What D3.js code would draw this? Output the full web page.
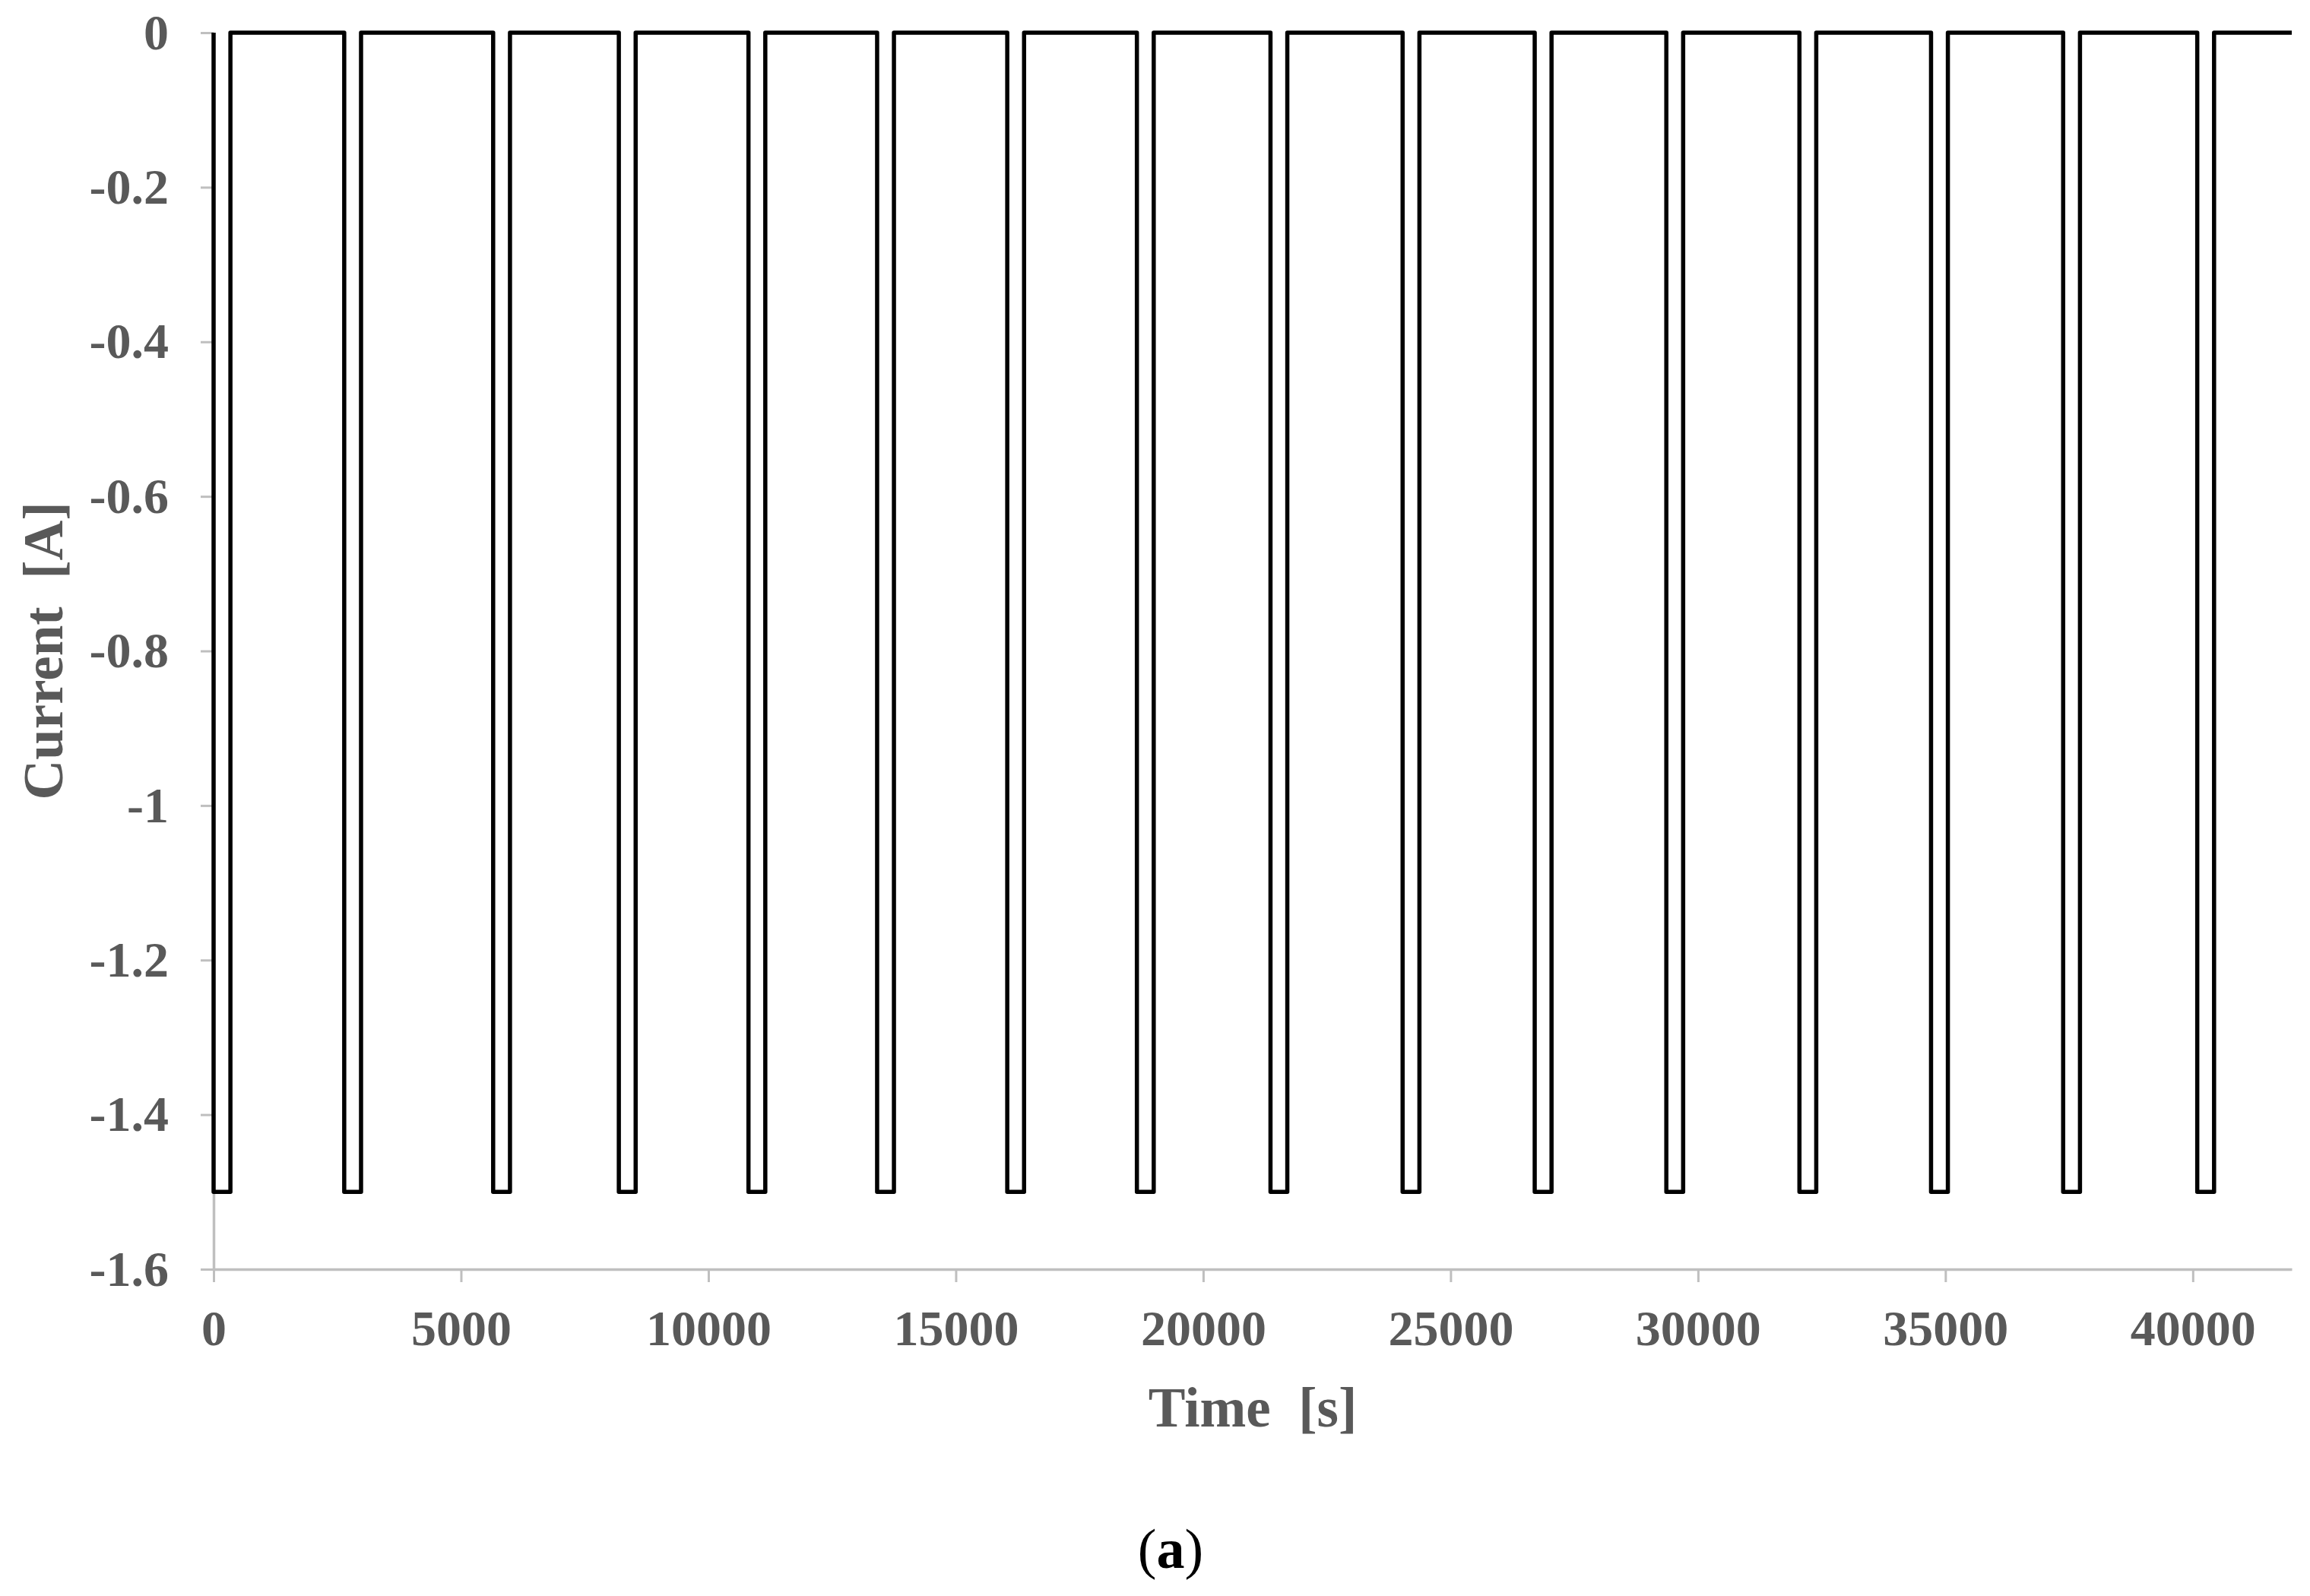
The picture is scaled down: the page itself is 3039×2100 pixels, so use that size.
<!DOCTYPE html>
<html>
<head>
<meta charset="utf-8">
<script src="https://cdn.jsdelivr.net/npm/d3@7"></script>
<style>
  body { margin: 0; background: #fff; }
  text { font-family: "Liberation Serif", "Times New Roman", serif; }
</style>
</head>
<body>
<script>
// pulse start / end times in seconds
var pulseStart = [0, 2640, 5650, 8190, 10810, 13410, 16040, 18660, 21360, 24030, 26700, 29360, 32050, 34710, 37380, 40090];
var pulseEnd   = [340, 2980, 5990, 8530, 11150, 13750, 16380, 19000, 21700, 24370, 27040, 29700, 32390, 35050, 37720, 40430];
var restCurrent = 0;
var pulseCurrent = -1.5;
var endTime = 42000;

var xTicks = [0, 5000, 10000, 15000, 20000, 25000, 30000, 35000, 40000];
var yTicks = [0, -0.2, -0.4, -0.6, -0.8, -1, -1.2, -1.4, -1.6];

var margin = {top: 43, right: 24, bottom: 430, left: 281},
    width = 3039 - margin.left - margin.right,
    height = 2100 - margin.top - margin.bottom;

var svg = d3.select("body").append("svg")
    .attr("width", 3039)
    .attr("height", 2100)
    .append("g")
    .attr("transform", "translate(" + margin.left + "," + margin.top + ")");

var xScale = d3.scaleLinear().domain([0, endTime]).range([0, width]);
var yScale = d3.scaleLinear().domain([-1.6, 0]).range([height, 0]);

// build the step series from the pulse table
var points = [[0, restCurrent]];
for (let i = 0; i < pulseStart.length; i++) {
    points.push([pulseStart[i], restCurrent]);
    points.push([pulseStart[i], pulseCurrent]);
    points.push([pulseEnd[i], pulseCurrent]);
    points.push([pulseEnd[i], restCurrent]);
}
points.push([endTime, restCurrent]);

var xAxis = d3.axisBottom(xScale)
    .tickValues(xTicks)
    .tickSize(17)
    .tickSizeOuter(0)
    .tickPadding(36)
    .tickFormat(function(d) { return String(d); });

var yAxis = d3.axisLeft(yScale)
    .tickValues(yTicks)
    .tickSize(17)
    .tickSizeOuter(0)
    .tickPadding(42)
    .tickFormat(function(d) { return String(+d.toFixed(1)); });

var gx = svg.append("g")
    .attr("class", "axis axis--x")
    .attr("transform", "translate(0," + height + ")")
    .call(xAxis);

var gy = svg.append("g")
    .attr("class", "axis axis--y")
    .call(yAxis);

[gx, gy].forEach(function(g) {
    g.select(".domain").attr("stroke", "#bfbfbf").attr("stroke-width", 3.5);
    g.selectAll(".tick line").attr("stroke", "#bfbfbf").attr("stroke-width", 3);
    g.selectAll(".tick text")
        .attr("fill", "#595959")
        .attr("font-size", "66px")
        .attr("font-weight", "bold")
        .style("font-family", "'Liberation Serif', 'Times New Roman', serif");
});

var lineGen = d3.line()
    .x(function(d) { return xScale(d[0]); })
    .y(function(d) { return yScale(d[1]); });

svg.append("path")
    .attr("d", lineGen(points))
    .attr("fill", "none")
    .attr("stroke", "#000")
    .attr("stroke-width", 5.5)
    .attr("stroke-linejoin", "round");

// axis titles (two spaces before the unit, as in the original)
svg.append("text")
    .attr("x", width / 2)
    .attr("y", 1877 - margin.top)
    .attr("text-anchor", "middle")
    .attr("font-size", "73px")
    .attr("font-weight", "bold")
    .attr("fill", "#595959")
    .style("white-space", "pre")
    .text("Time  [s]");

svg.append("text")
    .attr("transform", "rotate(-90)")
    .attr("x", -height / 2)
    .attr("y", 82 - margin.left)
    .attr("text-anchor", "middle")
    .attr("font-size", "73px")
    .attr("font-weight", "bold")
    .attr("fill", "#595959")
    .style("white-space", "pre")
    .text("Current  [A]");

// panel caption
var cap = svg.append("text")
    .attr("x", 1540 - margin.left)
    .attr("y", 2063 - margin.top)
    .attr("text-anchor", "middle")
    .attr("font-size", "74px")
    .attr("fill", "#000");
cap.append("tspan").text("(");
cap.append("tspan").attr("font-weight", "bold").text("a");
cap.append("tspan").text(")");
</script>
</body>
</html>
